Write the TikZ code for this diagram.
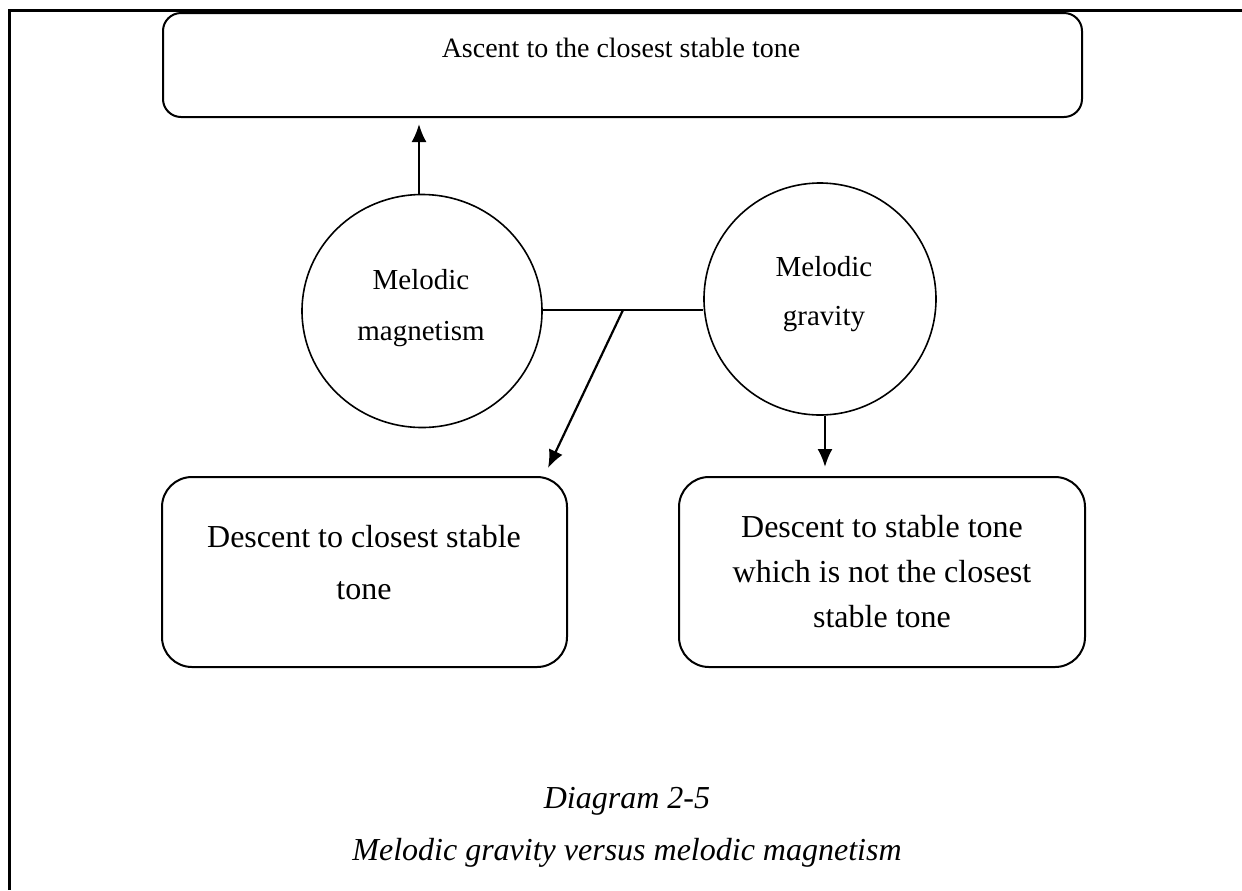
\documentclass[tikz,border=0pt]{standalone}
\usepackage{fontspec}
\setmainfont{Liberation Serif}
\usetikzlibrary{shapes.geometric,arrows.meta}
\begin{document}
\begin{tikzpicture}[x=0.5pt,y=-0.5pt,
  frameline/.style={line width=1.5pt},
  topbox/.style={draw, line width=1pt, rounded corners=9pt, inner sep=0pt},
  lowbox/.style={draw, line width=1pt, rounded corners=15pt, inner sep=0pt},
  bubble/.style={draw, ellipse, line width=0.8pt, inner sep=0pt},
  % multi-line texts are anchored at the baseline of their last line
  boxtext/.style={font=\fontsize{16pt}{26pt}\selectfont, align=center, inner sep=0pt, anchor=base},
  bubbletext/.style={font=\fontsize{14.5pt}{25pt}\selectfont, align=center, inner sep=0pt, anchor=base},
  captext/.style={font=\fontsize{16pt}{26pt}\selectfont\itshape, align=center, inner sep=0pt, anchor=base},
  joinline/.style={line width=0.8pt},
  arrowline/.style={line width=1.1pt, -{Latex[length=9pt,width=7.5pt]}}]
\useasboundingbox (0,0) rectangle (1242,890);

% page frame: left and top rules
\coordinate (frameB) at (9,890);
\coordinate (frameTL) at (9,10);
\coordinate (frameR) at (1242,10);
\draw[frameline] (frameB) -- (frameTL) -- (frameR);

% boxes
\node[topbox, minimum width=459.5pt, minimum height=52pt] (ascent) at (622.5,65) {};
\node[lowbox, minimum width=202.5pt, minimum height=95pt] (closest) at (364.5,572) {};
\node[lowbox, minimum width=203pt, minimum height=95pt] (notclosest) at (882,572) {};

% bubbles
\node[bubble, minimum width=120pt, minimum height=116.5pt] (magn) at (422,311) {};
\node[bubble, minimum width=116pt, minimum height=116pt] (grav) at (820,299) {};

% texts
\node[boxtext, font=\fontsize{14pt}{20pt}\selectfont] (ascentT) at (621,57) {Ascent to the closest stable tone};
\node[boxtext] (closestT) at (364,599) {Descent to closest stable\\tone};
\node[boxtext, font=\fontsize{16pt}{22.5pt}\selectfont] (notclosestT) at (882,627)
  {Descent to stable tone\\which is not the closest\\stable tone};
\node[bubbletext, font=\fontsize{14.5pt}{25.5pt}\selectfont] (magnT) at (421,340) {Melodic\\magnetism};
\node[bubbletext, font=\fontsize{14.5pt}{24.5pt}\selectfont] (gravT) at (824,325) {Melodic\\gravity};
\node[captext] (caption) at (627,860) {Diagram 2-5\\Melodic gravity versus melodic magnetism};

% connectors
\coordinate (tipT) at (419,124);
\coordinate (j) at (623,310);
\coordinate (tipL) at (548,468);
\coordinate (tipR) at (825,467);
\draw[joinline] (magn.east |- j) -- (grav.west |- j);
\draw[arrowline] (magn.north -| tipT) -- (tipT);
\draw[arrowline] (j) -- (tipL);
\draw[arrowline] (grav.south -| tipR) -- (tipR);
\end{tikzpicture}
\end{document}
